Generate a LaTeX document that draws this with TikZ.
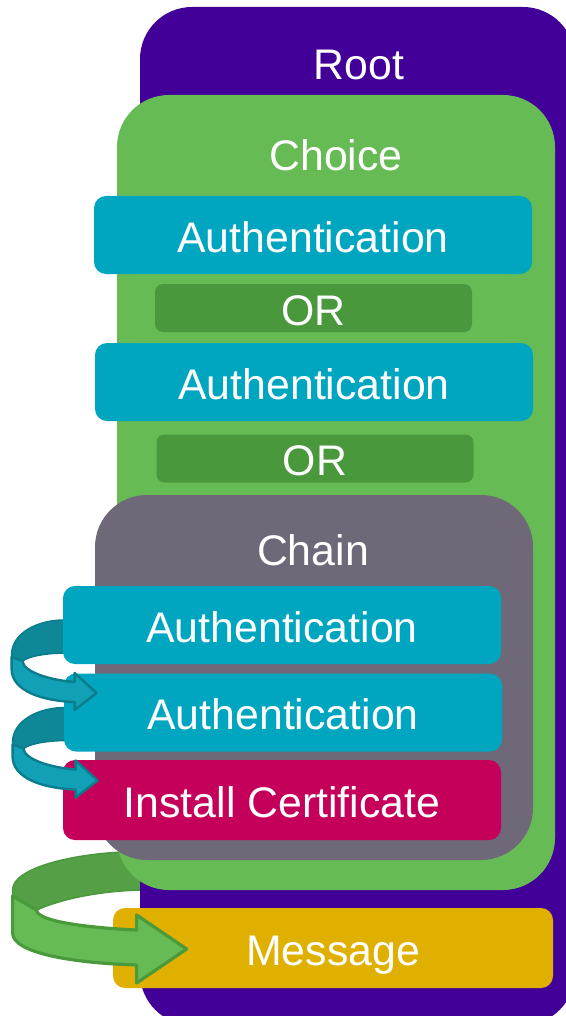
\documentclass[tikz,border=0pt]{standalone}
\usepackage{fontspec}
\setmainfont{Liberation Sans}
\usetikzlibrary{backgrounds}

\definecolor{rootviolet}{HTML}{420099}
\definecolor{choicegreen}{HTML}{66BB55}
\definecolor{ofgreen}{HTML}{4A983C}
\definecolor{chaingray}{HTML}{6E6878}
\definecolor{authteal}{HTML}{00A6C0}
\definecolor{installred}{HTML}{C4005A}
\definecolor{messagegold}{HTML}{E0B000}
\definecolor{lintteal}{HTML}{12A0B6}
\definecolor{linttealdonker}{HTML}{0E8797}
\definecolor{randteal}{HTML}{0B7C8C}
\definecolor{lintgroendonker}{HTML}{55A046}
\definecolor{randgroen}{HTML}{4A9A3C}

\begin{document}
\begin{tikzpicture}[x=0.5pt,y=-0.5pt]

% --- Stijldefinities ---
\tikzset{
    kader/.style={
        fill=#1,
        inner sep=0pt,
        rounded corners=26pt
    },
    titel/.style={
        text=white,
        font=\fontsize{21.4}{25}\selectfont,
        inner sep=0pt
    },
    blok/.style={
        fill=#1,
        text=white,
        font=\fontsize{21.4}{25}\selectfont,
        text height=17.3pt,
        text depth=0pt,
        inner sep=0pt,
        rounded corners=6pt,
        minimum width=219pt,
        minimum height=39pt
    },
    ofblok/.style={
        blok=ofgreen,
        rounded corners=4pt,
        minimum width=158.5pt,
        minimum height=24pt
    },
    lintachter/.style={fill=#1, draw=#1, line width=0.8pt, line join=round},
    lintvoor/.style={fill=#1, line width=1.2pt, line join=round}
}

\useasboundingbox (0,0) rectangle (566,1016);
\clip (0,0) rectangle (566,1016);

% --- Kaders ---
\node[kader=rootviolet, minimum width=217.5pt, minimum height=509pt] (root) at (357.5,516) {};
\node[titel] (rootlbl) at (359,65) {Root};

\node[kader=choicegreen, minimum width=219pt, minimum height=397.5pt] (choice) at (336,492.5) {};
\node[titel] (choicelbl) at (336,155) {Choice};

\node[blok=authteal] (authA) at (313,235) {Authentication};
\node[ofblok] (orA) at (313.5,308) {OR};
\node[blok=authteal] (authB) at (314,382) {Authentication};
\node[ofblok] (orB) at (315,458.5) {OR};

\node[kader=chaingray, minimum width=219pt, minimum height=182.5pt] (chain) at (314,677.5) {};
\node[titel] (chainlbl) at (313,550) {Chain};

\node[blok=authteal] (authC) at (282,625) {Authentication};
\node[blok=authteal] (authD) at (283,712.5) {Authentication};
\node[blok=installred, minimum height=40pt] (install) at (282,800) {Install Certificate};

\node[blok=messagegold, minimum width=220pt, minimum height=40pt] (message) at (333,948) {Message};

% --- Linten (achterkant) ---
\begin{scope}[on background layer]
\foreach \bron in {authC,authD} {
    \begin{scope}[shift={(\bron.west)}]
        \draw[lintachter=linttealdonker, draw=randteal] (2,-5) .. controls (-25,-5) and (-51,8) .. (-51,30)
            -- (-51,40) -- (-40,36) .. controls (-34,31) and (-15,28) .. (2,28) -- cycle;
    \end{scope}
}
\begin{scope}[shift={(message.west)}]
    \draw[lintachter=lintgroendonker, draw=randgroen] (12,-96) .. controls (-40,-94) and (-100,-80) .. (-100,-58)
        -- (-100,-45) -- (-76,-38) .. controls (-45,-52) and (0,-58) .. (32,-58) -- cycle;
\end{scope}
\end{scope}

% --- Linten (voorkant) ---
\foreach \bron in {authC,authD} {
    \begin{scope}[shift={(\bron.west)}]
        \draw[lintvoor=lintteal, draw=randteal] (-51,32) -- (-51,44) .. controls (-51,66) and (-20,76) .. (12,77)
            -- (12,85) -- (34,68) -- (12,48) -- (12,57) .. controls (-15,55) and (-40,46) .. (-40,36) -- cycle;
    \end{scope}
}
\begin{scope}[shift={(message.west)}]
    \draw[lintvoor=choicegreen, draw=randgroen, line width=1.6pt] (-100,-52) -- (-100,-15) .. controls (-100,5) and (-40,15) .. (24,17)
        -- (24,35) -- (74,1) -- (24,-33) -- (24,-18) .. controls (-20,-20) and (-76,-26) .. (-76,-38) -- cycle;
\end{scope}
\end{tikzpicture}
\end{document}
